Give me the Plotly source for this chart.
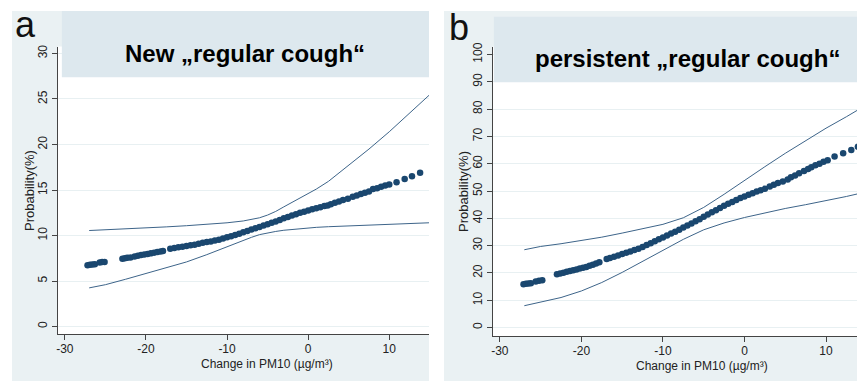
import plotly.graph_objects as go

W, H = 857, 381

# ---------------- Panel a: New "regular cough" ----------------
a_dot_x = [-27.2, -26.9, -26.6, -26.3, -25.7, -25.4, -25.1,
           -22.9, -22.6, -22.3, -21.9, -21.4, -21.0, -20.6, -20.2, -19.8, -19.4, -19.0, -18.6, -18.2, -17.9,
           -17.0, -16.5, -16.0, -15.5, -15.0, -14.5, -14.0, -13.5, -13.0, -12.5, -12.0, -11.5, -11.0, -10.5,
           -10.0, -9.5, -9.0, -8.5, -8.0, -7.5, -7.0, -6.5, -6.0, -5.5, -5.0, -4.5, -4.0, -3.5, -3.0, -2.5,
           -2.0, -1.5, -1.0, -0.5, 0.0, 0.5, 1.0, 1.5, 2.0, 2.4,
           2.8, 3.3, 3.8, 4.3, 4.9, 5.5, 6.0, 6.5, 7.0, 7.5, 8.0, 8.5, 9.0, 9.5, 10.0,
           10.9, 11.9, 12.8, 13.8]
a_dot_y = [6.75, 6.78, 6.82, 6.85, 7.05, 7.08, 7.1,
           7.45, 7.5, 7.55, 7.6, 7.7, 7.78, 7.85, 7.92, 7.98, 8.05, 8.12, 8.18, 8.24, 8.3,
           8.55, 8.62, 8.7, 8.78, 8.85, 8.92, 9.0, 9.1, 9.2, 9.28, 9.35, 9.45, 9.55, 9.68,
           9.8, 9.92, 10.05, 10.2, 10.35, 10.5, 10.65, 10.8, 10.95, 11.1, 11.25, 11.4, 11.55, 11.72, 11.9, 12.05,
           12.2, 12.35, 12.5, 12.62, 12.75, 12.88, 13.0, 13.12, 13.25, 13.3,
           13.45, 13.6, 13.75, 13.9, 14.05, 14.25, 14.4, 14.55, 14.7, 14.85, 15.1, 15.2, 15.35, 15.5, 15.6,
           15.85, 16.2, 16.5, 16.9]

a_ci_x = [-27.0, -25.0, -22.5, -20.0, -17.5, -15.0, -12.5, -10.0, -8.0, -7.0, -6.0, -5.0, -4.0, -3.0, -2.0,
          -1.0, 0.0, 1.0, 2.5, 5.0, 7.5, 10.0, 12.5, 14.9]
a_upper = [10.55, 10.62, 10.72, 10.82, 10.95, 11.08, 11.22, 11.4, 11.6, 11.75, 11.95, 12.25, 12.65, 13.15, 13.65,
           14.1, 14.6, 15.1, 15.95, 17.7, 19.5, 21.4, 23.4, 25.4]
a_lower = [4.25, 4.6, 5.2, 5.85, 6.45, 7.1, 7.9, 8.8, 9.45, 9.8, 10.1, 10.3, 10.45, 10.58, 10.68,
           10.77, 10.85, 10.9, 10.97, 11.07, 11.17, 11.27, 11.35, 11.4]

# ---------------- Panel b: persistent "regular cough" ----------------
b_dot_x = [-27.1, -26.8, -26.5, -26.2, -25.6, -25.2, -24.8,
           -23.0, -22.6, -22.2, -21.8, -21.4, -21.0, -20.6, -20.2, -19.8, -19.4, -19.0, -18.6, -18.2, -17.8,
           -16.9, -16.5, -16.0, -15.5, -15.0, -14.5, -14.0, -13.5, -13.0, -12.5, -12.0, -11.5, -11.0, -10.5,
           -10.0, -9.5, -9.0, -8.5, -8.0, -7.5, -7.0, -6.5, -6.0, -5.5, -5.0, -4.5, -4.0, -3.5, -3.0, -2.5,
           -2.0, -1.5, -1.0, -0.5, 0.0, 0.5, 1.0, 1.5, 2.0, 2.5,
           3.1, 3.6, 4.1, 4.7, 5.3, 5.7, 6.2, 6.7, 7.3, 7.8, 8.2, 8.7, 9.2, 9.7, 10.2,
           11.05, 12.1, 13.1, 13.9]
b_dot_y = [15.9, 16.0, 16.1, 16.2, 16.9, 17.1, 17.3,
           19.5, 19.8, 20.1, 20.4, 20.7, 21.0, 21.3, 21.6, 21.9, 22.2, 22.6, 23.0, 23.5, 23.9,
           25.1, 25.5, 25.9, 26.4, 26.9, 27.4, 27.9, 28.4, 28.9, 29.5, 30.2, 30.9, 31.6, 32.3,
           33.0, 33.7, 34.4, 35.1, 35.8, 36.6, 37.4, 38.1, 38.9, 39.7, 40.6, 41.4, 42.2, 43.0, 43.8, 44.6,
           45.3, 46.0, 46.7, 47.4, 48.0, 48.6, 49.2, 49.8, 50.3, 50.8,
           51.7, 52.3, 52.9, 53.5, 54.2, 55.0, 55.7, 56.5, 57.3, 58.1, 58.7, 59.4, 60.0, 60.7, 61.3,
           62.6, 63.8, 65.0, 66.2]

b_ci_x = [-27.0, -25.0, -22.5, -20.0, -17.5, -15.0, -12.5, -10.0, -7.5, -5.0, -2.5, 0.0, 2.5, 5.0, 7.5,
          10.0, 12.5, 13.8]
b_upper = [28.5, 29.7, 30.7, 31.8, 33.1, 34.6, 36.1, 37.8, 40.2, 44.0, 48.8, 54.0, 58.9, 63.8, 68.5,
           73.0, 77.2, 79.5]
b_lower = [8.0, 9.3, 11.0, 13.4, 16.5, 20.2, 24.3, 28.3, 32.3, 35.8, 38.3, 40.3, 42.0, 43.6, 45.0,
           46.4, 48.0, 48.9]

a_yticks = [0, 5, 10, 15, 20, 25, 30]
b_yticks = [0, 10, 20, 30, 40, 50, 60, 70, 80, 90, 100]
x_ticks = [-30, -20, -10, 0, 10]
x_ticklabels = ["-30", "-20", "-10", "0", "10"]

titles = ["New „regular cough“", "persistent „regular cough“"]
letters = ["a", "b"]
x_title = "Change in PM10 (µg/m³)"
y_title = "Probability(%)"

NAVY = "#1a476f"
LINE = "#3d6489"
FONT = "Liberation Sans, Arial, sans-serif"


def px(x):
    return x / W


def py(y):
    return 1 - y / H


fig = go.Figure()

for (xs, ys, cx, up, lo, xa, ya) in [
    (a_dot_x, a_dot_y, a_ci_x, a_upper, a_lower, "x", "y"),
    (b_dot_x, b_dot_y, b_ci_x, b_upper, b_lower, "x2", "y2"),
]:
    fig.add_trace(go.Scatter(x=cx, y=up, mode="lines", line=dict(color=LINE, width=1),
                             xaxis=xa, yaxis=ya, showlegend=False, hoverinfo="skip"))
    fig.add_trace(go.Scatter(x=cx, y=lo, mode="lines", line=dict(color=LINE, width=1),
                             xaxis=xa, yaxis=ya, showlegend=False, hoverinfo="skip"))
    fig.add_trace(go.Scatter(x=xs, y=ys, mode="markers",
                             marker=dict(color=NAVY, size=6.5, symbol="circle", line=dict(width=0)),
                             xaxis=xa, yaxis=ya, showlegend=False))

axis_common = dict(
    showline=True, linecolor="#444444", linewidth=1,
    ticks="outside", ticklen=5, tickcolor="#444444", tickwidth=1,
    zeroline=False, fixedrange=True,
)

GRID = "#e8f0f2"
fig.update_layout(
    width=W, height=H,
    margin=dict(l=0, r=0, t=0, b=0),
    paper_bgcolor="white",
    plot_bgcolor="white",
    font=dict(family=FONT, color="#222222"),
    xaxis=dict(domain=[px(56), px(428)], range=[-30.86, 14.9], anchor="y",
               tickvals=x_ticks, ticktext=x_ticklabels, showgrid=False, tickfont=dict(size=12),
               ticklabelstandoff=-2, **axis_common),
    yaxis=dict(domain=[py(334), py(43)], range=[-0.87, 30.76], anchor="x",
               tickvals=a_yticks, showgrid=True, gridcolor=GRID, gridwidth=1,
               tickangle=-90, tickfont=dict(size=12), **axis_common),
    xaxis2=dict(domain=[px(492), 1.0], range=[-30.86, 13.8], anchor="y2",
                tickvals=x_ticks, ticktext=x_ticklabels, showgrid=False, tickfont=dict(size=12),
                ticklabelstandoff=-2, **axis_common),
    yaxis2=dict(domain=[py(336), py(43)], range=[-3.26, 102.9], anchor="x2",
                tickvals=b_yticks, showgrid=True, gridcolor=GRID, gridwidth=1,
                tickangle=-90, tickfont=dict(size=12), **axis_common),
)

BG = "#eaf1f3"
BOX = "#dde8ee"
shapes = [
    dict(type="rect", xref="paper", yref="paper", x0=px(10), x1=px(428), y0=0, y1=py(7),
         fillcolor=BG, line=dict(width=0), layer="below"),
    dict(type="rect", xref="paper", yref="paper", x0=px(443), x1=1, y0=0, y1=py(7),
         fillcolor=BG, line=dict(width=0), layer="below"),
    # white plot regions
    dict(type="rect", xref="paper", yref="paper", x0=px(56), x1=px(428), y0=py(334), y1=py(43),
         fillcolor="white", line=dict(width=0), layer="below"),
    dict(type="rect", xref="paper", yref="paper", x0=px(492), x1=1, y0=py(336), y1=py(43),
         fillcolor="white", line=dict(width=0), layer="below"),
    # title boxes
    dict(type="rect", xref="paper", yref="paper", x0=px(60), x1=px(428), y0=py(74), y1=py(7),
         fillcolor=BOX, line=dict(width=0), layer="above"),
    dict(type="rect", xref="paper", yref="paper", x0=px(493), x1=1, y0=py(79), y1=py(13),
         fillcolor=BOX, line=dict(width=0), layer="above"),
]
fig.update_layout(shapes=shapes)

ann = []
# panel letters
ann.append(dict(text=letters[0], x=px(11), y=py(21), xanchor="left", yanchor="middle",
                font=dict(size=36, color="#111111")))
ann.append(dict(text=letters[1], x=px(446), y=py(24), xanchor="left", yanchor="middle",
                font=dict(size=36, color="#111111")))
# titles
ann.append(dict(text="<b>" + titles[0] + "</b>", x=px(244), y=py(50), xanchor="center", yanchor="middle",
                font=dict(size=24, color="#000000")))
ann.append(dict(text="<b>" + titles[1] + "</b>", x=px(687), y=py(55), xanchor="center", yanchor="middle",
                font=dict(size=24, color="#000000")))
# axis titles
ann.append(dict(text=x_title, x=px(266), y=py(364), xanchor="center", yanchor="middle",
                font=dict(size=12, color="#222222")))
ann.append(dict(text=x_title, x=px(702), y=py(366), xanchor="center", yanchor="middle",
                font=dict(size=12, color="#222222")))
ann.append(dict(text=y_title, x=px(27), y=py(188), xanchor="center", yanchor="middle", textangle=-90,
                font=dict(size=13, color="#222222")))
ann.append(dict(text=y_title, x=px(462), y=py(189), xanchor="center", yanchor="middle", textangle=-90,
                font=dict(size=13, color="#222222")))
for a in ann:
    a.update(xref="paper", yref="paper", showarrow=False)
fig.update_layout(annotations=ann)

fig.write_html("out.html")
